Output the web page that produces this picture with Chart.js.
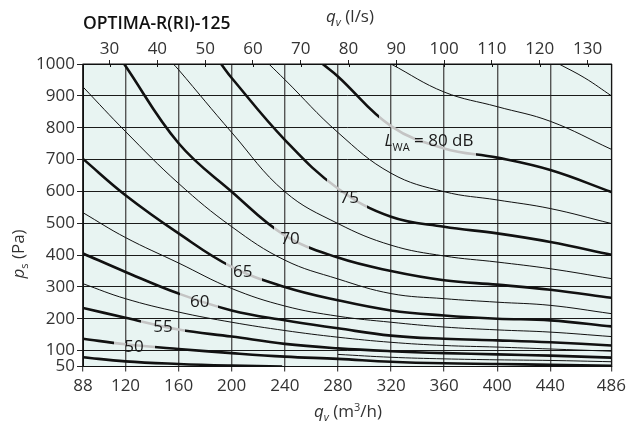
<!DOCTYPE html>
<html lang="en">
<head>
<meta charset="UTF-8">
<title>OPTIMA-R(RI)-125</title>
<script src="https://cdn.jsdelivr.net/npm/chart.js"></script>
<style>
  html, body { margin: 0; padding: 0; background: #fff; }
  #wrap { width: 630px; height: 426px; }
</style>
</head>
<body>
<div id="wrap"><canvas id="chart" width="630" height="426"></canvas></div>
<script>
// axis ticks: flow in m3/h (bottom), l/s (top), static pressure in Pa
const qTicks = [88, 120, 160, 200, 240, 280, 320, 360, 400, 440, 486];
const lsTicks = [30, 40, 50, 60, 70, 80, 90, 100, 110, 120, 130];
const pTicks = [50, 100, 200, 300, 400, 500, 600, 700, 800, 900, 1000];

// L_WA curves, points are [qv m3/h, ps Pa]
const c45   = [[88,79],[120,66],[160,58],[200,53],[238,50]];
const c50   = [[88,137],[120,120],[160,105],[200,92],[240,81],[280,74],[320,65],[360,60],[400,58],[440,55],[486,52]];
const c52_5 = [[280,88],[320,79],[360,74],[400,71],[440,69],[486,65]];
const c55   = [[88,234],[120,203],[160,166],[200,144],[240,121],[280,107],[320,98],[360,92],[400,88],[440,84],[486,78]];
const c57_5 = [[88,310],[120,263],[160,221],[200,189],[240,163],[280,142],[320,126],[360,116],[400,111],[440,105],[486,98]];
const c60   = [[88,405],[120,347],[160,279],[200,226],[240,195],[280,170],[320,147],[360,137],[400,132],[440,126],[486,116]];
const c62_5 = [[88,533],[120,455],[160,375],[200,295],[240,240],[280,208],[320,189],[360,174],[400,165],[440,158],[486,144]];
const c65   = [[88,702],[120,588],[160,468],[200,363],[240,300],[280,258],[320,226],[360,210],[400,200],[440,195],[486,176]];
const c67_5 = [[88,928],[120,788],[160,625],[200,489],[240,384],[280,325],[320,279],[360,263],[400,252],[440,242],[486,216]];
const c70   = [[119,1000],[160,751],[200,599],[240,462],[280,392],[320,350],[360,321],[400,307],[440,291],[486,266]];
const c72_5 = [[156,1000],[160,982],[200,785],[240,599],[280,499],[320,431],[360,397],[400,378],[440,357],[486,326]];
const c75   = [[192,1000],[200,956],[240,762],[280,609],[320,520],[360,489],[400,468],[440,441],[486,401]];
const c77_5 = [[228,1000],[240,951],[280,785],[320,657],[360,599],[400,573],[440,546],[486,499]];
const c80   = [[268.5,1000],[280,961],[320,805],[360,735],[400,706],[440,667],[486,598]];
const c82_5 = [[320,1000],[360,912],[400,866],[440,820],[486,732]];
const c85   = [[446.5,1000],[466,956],[486,900]];

// labelled curves: label text, label centre [q, p], grey part of the line under the label [q from, q to]
const labelText = ['50', '55', '60', '65', '70', '75'];
const labelAt   = [[126.4,113],[148.2,176],[176,256],[208.3,351],[244,455],[288.6,583]];
const greyBands = [[111,142],[132,165],[161,190],[196,223],[232,258],[272,302],[311,384]];
const lwaLabelAt = [315, 743]; // "L_WA = 80 dB", left end / baseline

const FONT = '"Open Sans", "Noto Sans", sans-serif';
const INK = '#111';
const HALO = '#c4c4c4';

function bandColor(context, band) {
  const chart = context.chart;
  const area = chart.chartArea;
  if (!area || !band) return INK;
  const x = chart.scales.x;
  const w = area.right - area.left;
  const a = Math.min(1, Math.max(0, (x.getPixelForValue(band[0]) - area.left) / w));
  const b = Math.min(1, Math.max(0, (x.getPixelForValue(band[1]) - area.left) / w));
  const g = chart.ctx.createLinearGradient(area.left, 0, area.right, 0);
  g.addColorStop(0, INK); g.addColorStop(a, INK);
  g.addColorStop(a, HALO); g.addColorStop(b, HALO);
  g.addColorStop(b, INK); g.addColorStop(1, INK);
  return g;
}

function curve(points, thick, band) {
  return {
    data: points.map(p => ({ x: p[0], y: p[1] })),
    showLine: true,
    pointRadius: 0,
    borderWidth: thick ? 2.6 : 1,
    borderColor: ctx => bandColor(ctx, band),
    tension: 0.4,
    fill: false
  };
}

const datasets = [
  curve(c45, true),
  curve(c50, true, greyBands[0]),
  curve(c52_5, false),
  curve(c55, true, greyBands[1]),
  curve(c57_5, false),
  curve(c60, true, greyBands[2]),
  curve(c62_5, false),
  curve(c65, true, greyBands[3]),
  curve(c67_5, false),
  curve(c70, true, greyBands[4]),
  curve(c72_5, false),
  curve(c75, true, greyBands[5]),
  curve(c77_5, false),
  curve(c80, true, greyBands[6]),
  curve(c82_5, false),
  curve(c85, false)
];

// write a run of text pieces (italic, sub/superscript) one after another
function rich(ctx, parts, x, y, align) {
  let w = 0;
  parts.forEach(p => { ctx.font = p.f; w += ctx.measureText(p.t).width; });
  let cx = align === 'center' ? x - w / 2 : x;
  parts.forEach(p => {
    ctx.font = p.f;
    ctx.fillText(p.t, cx, y + (p.dy || 0));
    cx += ctx.measureText(p.t).width;
  });
}

const extras = {
  id: 'extras',
  beforeDraw(chart) {
    const { ctx, chartArea: a } = chart;
    ctx.save();
    ctx.fillStyle = '#e8f4f2';
    ctx.fillRect(a.left, a.top, a.right - a.left, a.bottom - a.top);
    ctx.restore();
  },
  afterDraw(chart) {
    const { ctx, chartArea: a, scales } = chart;
    ctx.save();
    // frame
    ctx.strokeStyle = '#111';
    ctx.lineWidth = 1;
    ctx.strokeRect(a.left, a.top, a.right - a.left, a.bottom - a.top);
    // top ticks reach a little into the plot
    ctx.beginPath();
    lsTicks.forEach(v => {
      const px = Math.round(scales.x2.getPixelForValue(v)) + 0.5;
      ctx.moveTo(px, a.top); ctx.lineTo(px, a.top + 3);
    });
    ctx.stroke();

    ctx.fillStyle = '#1a1a1a';
    ctx.textBaseline = 'alphabetic';
    const reg = '17px ' + FONT, ita = 'italic 17px ' + FONT, sub = '11px ' + FONT, subI = 'italic 11px ' + FONT;

    // curve labels
    ctx.textAlign = 'center';
    ctx.font = reg;
    labelText.forEach((t, i) => {
      ctx.fillText(t, scales.x.getPixelForValue(labelAt[i][0]), scales.y.getPixelForValue(labelAt[i][1]) + 6);
    });
    ctx.textAlign = 'left';
    rich(ctx, [
      { t: 'L', f: ita },
      { t: 'WA', f: sub, dy: 5 },
      { t: ' = 80 dB', f: reg }
    ], scales.x.getPixelForValue(lwaLabelAt[0]), scales.y.getPixelForValue(lwaLabelAt[1]), 'left');

    // titles
    ctx.fillStyle = '#111';
    ctx.font = '600 17.5px ' + FONT;
    ctx.fillText('OPTIMA-R(RI)-125', 83, 29);
    ctx.fillStyle = '#333';
    rich(ctx, [
      { t: 'q', f: ita },
      { t: 'v', f: subI, dy: 4 },
      { t: ' (l/s)', f: reg }
    ], 350, 22, 'center');
    rich(ctx, [
      { t: 'q', f: ita },
      { t: 'v', f: subI, dy: 4 },
      { t: ' (m', f: reg },
      { t: '3', f: sub, dy: -6 },
      { t: '/h)', f: reg }
    ], 348, 417, 'center');
    ctx.translate(24, 254);
    ctx.rotate(-Math.PI / 2);
    rich(ctx, [
      { t: 'p', f: ita },
      { t: 's', f: sub, dy: 4 },
      { t: ' (Pa)', f: reg }
    ], 0, 0, 'center');
    ctx.restore();
  }
};

const tickFont = { family: FONT, size: 17 };
const plain = v => String(v);

new Chart(document.getElementById('chart'), {
  type: 'scatter',
  data: { datasets: datasets },
  options: {
    responsive: false,
    animation: false,
    events: [],
    layout: { padding: { left: 0, right: 18, top: 0, bottom: 0 } },
    plugins: { legend: { display: false }, tooltip: { enabled: false } },
    scales: {
      x: {
        type: 'linear', position: 'bottom', min: 88, max: 486,
        afterBuildTicks: s => { s.ticks = qTicks.map(v => ({ value: v })); },
        afterFit: s => { s.height = 59.5; },
        ticks: { font: tickFont, color: '#333', padding: 4, maxRotation: 0, autoSkip: false, callback: plain },
        grid: { color: '#555', lineWidth: 1.4, tickLength: 5, tickColor: '#222', tickWidth: 1 },
        border: { color: '#111', width: 1 }
      },
      x2: {
        type: 'linear', position: 'top', min: 88 / 3.6, max: 486 / 3.6,
        afterBuildTicks: s => { s.ticks = lsTicks.map(v => ({ value: v })); },
        afterFit: s => { s.height = 64; },
        ticks: { font: tickFont, color: '#333', padding: 1, maxRotation: 0, autoSkip: false, callback: plain },
        grid: { drawOnChartArea: false, tickLength: 4, tickColor: '#222', tickWidth: 1 },
        border: { color: '#111', width: 1 }
      },
      y: {
        type: 'linear', position: 'left', min: 50, max: 1000,
        afterBuildTicks: s => { s.ticks = pTicks.map(v => ({ value: v })); },
        afterFit: s => { s.width = 83; },
        ticks: { font: tickFont, color: '#333', padding: 2, autoSkip: false, callback: plain },
        grid: { color: '#1a1a1a', lineWidth: 1, tickLength: 6, tickColor: '#222', tickWidth: 1 },
        border: { color: '#111', width: 1 }
      }
    }
  },
  plugins: [extras]
});
</script>
</body>
</html>
